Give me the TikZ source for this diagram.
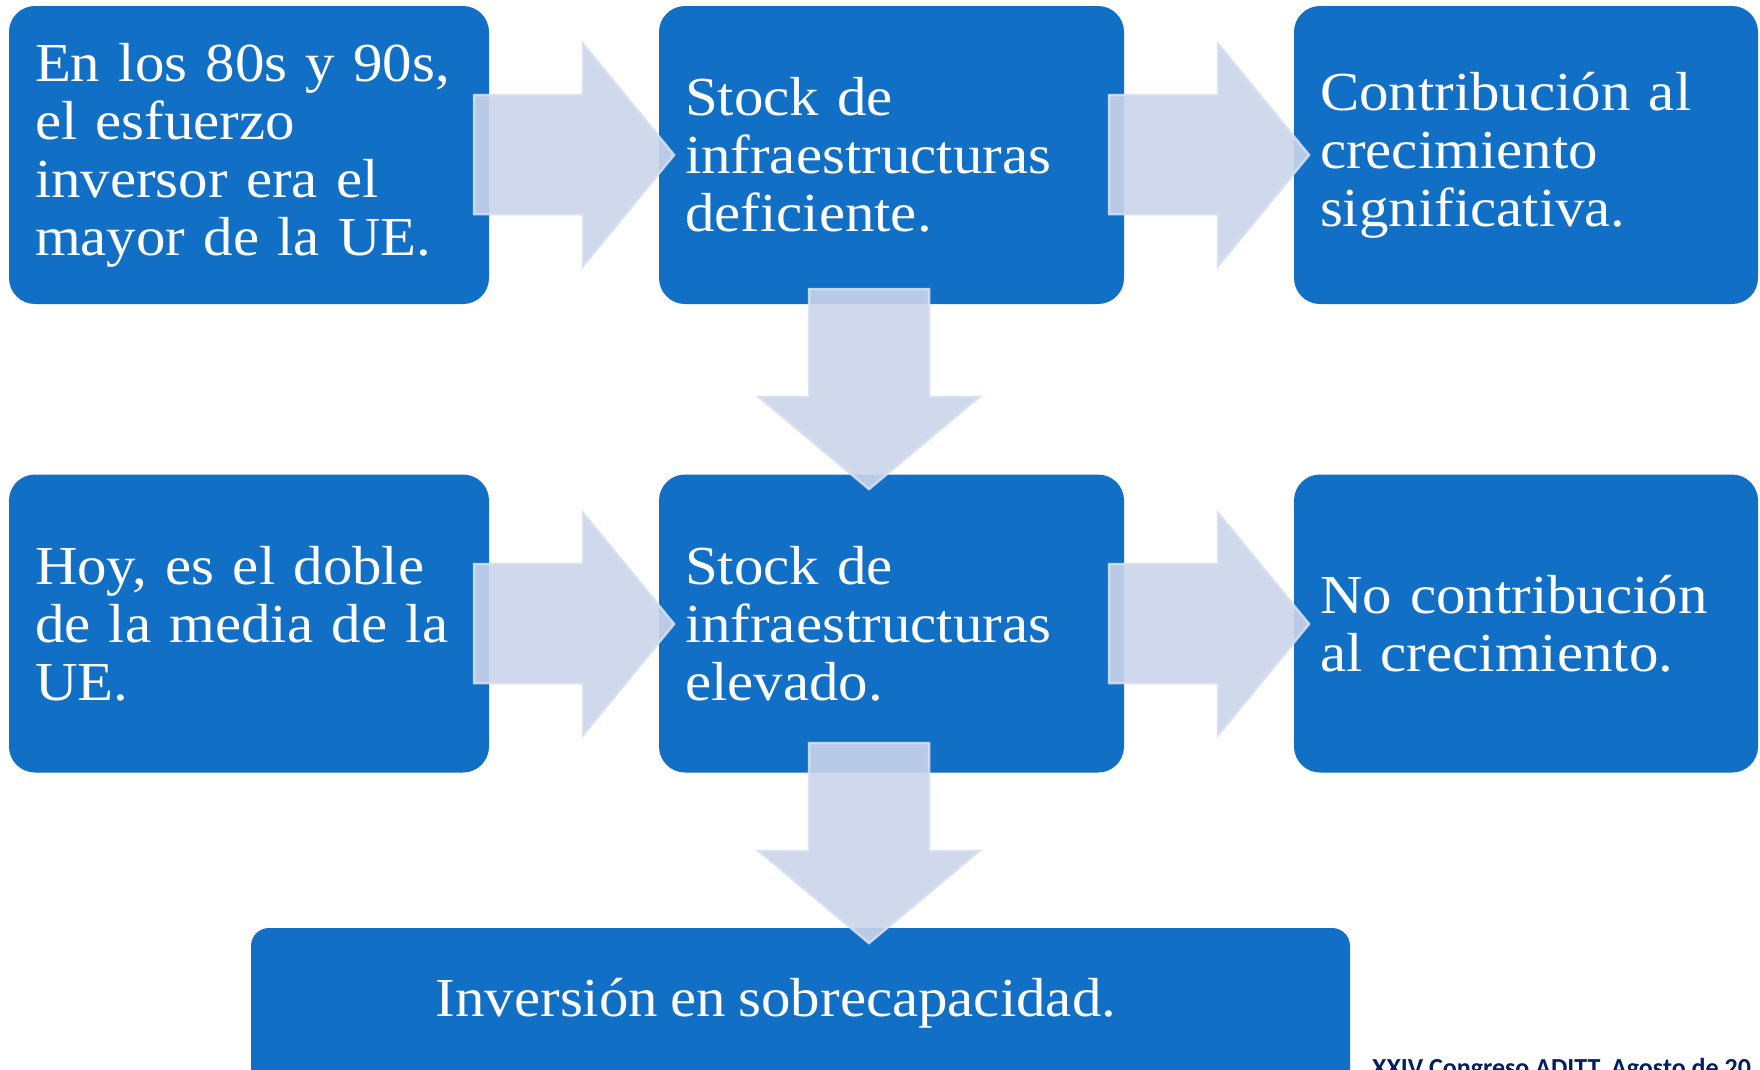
\documentclass[tikz,border=0pt]{standalone}
\usepackage{fontspec}
\setmainfont[FakeStretch=1.07,WordSpace=0.85]{Liberation Serif}
\newfontfamily\footfont{Carlito}
\definecolor{boxblue}{RGB}{17,112,198}
\definecolor{arrowfill}{RGB}{203,212,234}
\definecolor{arrowline}{RGB}{214,222,240}
\definecolor{footnavy}{RGB}{0,32,96}
\begin{document}
\begin{tikzpicture}[x=1pt,y=-1pt,
  bluebox/.style={fill=boxblue, rounded corners=26pt, inner xsep=26pt, inner ysep=0pt,
    text=white, align=left, font=\fontsize{55}{58}\selectfont, minimum height=298pt},
  blockarrow/.style={fill=arrowfill, fill opacity=0.9, draw=arrowline, draw opacity=0.9,
    line width=2.5pt, line join=miter}
]
\useasboundingbox (0,0) rectangle (1760,1069);
\clip (0,0) rectangle (1760,1069);
\fill[white] (0,0) rectangle (1760,1069);

% row 1
\node[bluebox, text width=428pt, minimum width=480pt] (b1) at (249,155)
  {\raisebox{-3pt}{\parbox{428pt}{En los 80s y 90s,\\el esfuerzo\\inversor era el\\mayor de la UE.}}};
\node[bluebox, text width=413pt, minimum width=465pt] (b2) at (891.5,155)
  {Stock de\\infraestructuras\\deficiente.};
\node[bluebox, text width=412pt, minimum width=464pt] (b3) at (1526,155)
  {Contribución al\\crecimiento\\significativa.};
% row 2
\node[bluebox, text width=428pt, minimum width=480pt] (b4) at (249,623.5)
  {Hoy, es el doble\\de la media de la\\UE.};
\node[bluebox, text width=413pt, minimum width=465pt] (b5) at (891.5,623.5)
  {Stock de\\infraestructuras\\elevado.};
\node[bluebox, text width=412pt, minimum width=464pt] (b6) at (1526,623.5)
  {No contribución\\al crecimiento.};
% bottom
\node[fill=boxblue, rounded corners=18pt, minimum width=1099pt, minimum height=180pt, inner sep=0pt] (b7) at (800.5,1018) {};
\node[text=white, anchor=base, inner sep=0pt, font=\fontsize{55}{58}\selectfont] (b7t) at (776,1016) {Inversión en sobrecapacidad.};

% right arrows
\foreach \dx/\dy/\nm in {0/0/ra, 635/0/rb, 0/469/rc, 635/469/rd}{
  \begin{scope}[shift={(\dx,\dy)}]
    \coordinate (\nm) at (674,155);
    \draw[blockarrow] (474,95) -- (583,95) -- (583,44) -- (\nm) -- (583,266) -- (583,214) -- (474,214) -- cycle;
  \end{scope}
}
% down arrows
\foreach \dy/\nm in {0/da, 454/db}{
  \begin{scope}[shift={(0,\dy)}]
    \coordinate (\nm) at (869,489);
    \draw[blockarrow] (809,289) -- (929,289) -- (929,397) -- (979,397) -- (\nm) -- (759,397) -- (809,397) -- cycle;
  \end{scope}
}

% footer
\node[anchor=base west, inner sep=0pt, text=footnavy, font=\footfont\bfseries\fontsize{26}{30}\selectfont] (foot) at (1372,1076) {XXIV Congreso ADITT. Agosto de 20};
\end{tikzpicture}
\end{document}
